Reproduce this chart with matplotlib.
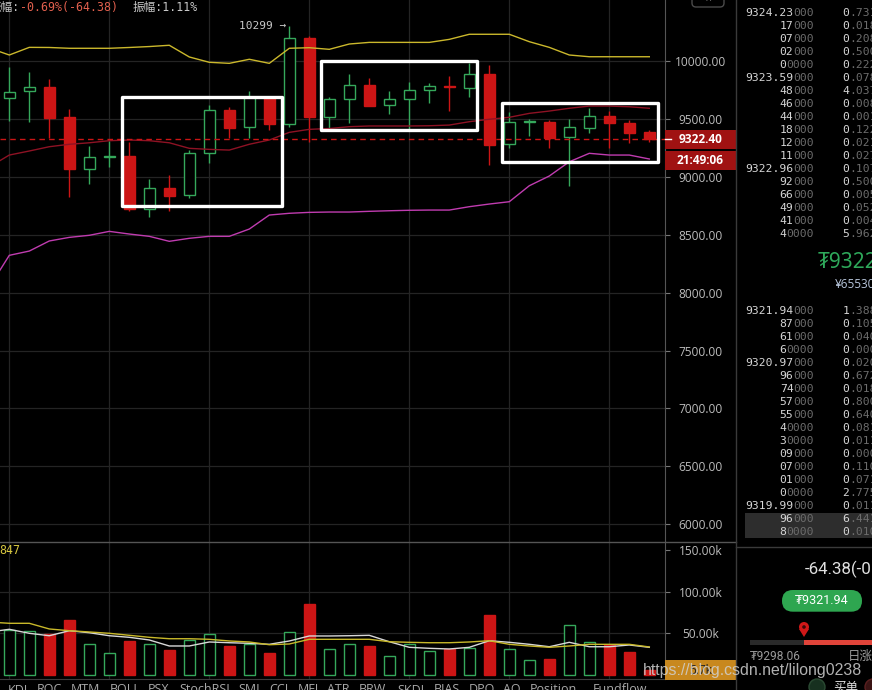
import numpy as np
import matplotlib
matplotlib.use('Agg')
import matplotlib.pyplot as plt
from matplotlib.patches import Rectangle, FancyBboxPatch, Circle, Polygon
from matplotlib.transforms import blended_transform_factory

W, H = 872, 690

# candles, oldest first
opens  = [9678, 9738, 9773, 9514, 9065, 9168, 9180, 8719, 8901, 8840, 9203, 9577, 9427, 9689, 9453, 10201, 9519,
          9669, 9793, 9617, 9669, 9747, 9785, 9769, 9888, 9281, 9470, 9473, 9341, 9424, 9522, 9462, 9384]
closes = [9730, 9773, 9510, 9065, 9168, 9180, 8719, 8901, 8837, 9203, 9574, 9424, 9689, 9453, 10196, 9519, 9669,
          9790, 9614, 9669, 9747, 9782, 9772, 9888, 9275, 9473, 9482, 9338, 9427, 9522, 9462, 9381, 9322.40]
highs  = [9951, 9902, 9842, 9583, 9266, 9312, 9303, 8981, 9016, 9231, 9620, 9605, 9741, 9700, 10299, 10216, 9692,
          9885, 9856, 9741, 9819, 9807, 9870, 9985, 9965, 9562, 9497, 9490, 9499, 9592, 9568, 9490, 9404]
lows   = [9484, 9476, 9332, 8823, 8938, 9082, 8707, 8655, 8707, 8820, 9117, 9338, 9332, 9404, 9427, 9303, 9410,
          9467, 9610, 9542, 9410, 9640, 9571, 9687, 9102, 9246, 9355, 9251, 8920, 9381, 9246, 9289, 9303]
volumes = [54000, 52800, 48800, 65900, 36800, 26000, 40800, 36800, 30000, 42000, 48800, 34800, 37200, 26400,
           51600, 85100, 30800, 36800, 34800, 22400, 36800, 28400, 30800, 32000, 71900, 30800, 17600, 19200,
           59600, 39200, 35600, 27600, 5700]

# indicator lines start one bar before the first visible candle
boll_up  = [10112, 10052, 10118, 10117, 10110, 10110, 10110, 10117, 10125, 10136, 10035, 9989, 9980, 10015, 9980,
            10110, 10115, 10101, 10147, 10161, 10161, 10161, 10161, 10187, 10231, 10231, 10231, 10167, 10118,
            10052, 10037, 10037, 10037, 10037]
boll_mid = [9085, 9188, 9223, 9260, 9281, 9294, 9312, 9318, 9312, 9294, 9246, 9237, 9231, 9281, 9318, 9384, 9410,
            9417, 9433, 9439, 9439, 9439, 9441, 9447, 9476, 9497, 9514, 9548, 9568, 9592, 9611, 9611, 9605, 9592]
boll_low = [8048, 8322, 8359, 8446, 8477, 8495, 8529, 8506, 8486, 8443, 8469, 8486, 8486, 8549, 8670, 8685, 8693,
            8696, 8696, 8702, 8707, 8711, 8713, 8713, 8742, 8765, 8785, 8923, 9007, 9130, 9203, 9188, 9188, 9154]
vol_ma_white  = [51600, 54800, 50000, 47100, 53100, 50700, 47100, 45200, 42000, 34800, 34800, 39600, 38700, 38000,
                 36800, 40800, 46800, 46800, 47100, 47600, 39900, 33200, 32000, 31200, 33200, 41100, 39200, 36800,
                 33900, 39200, 33900, 33900, 36000, 33200]
vol_ma_yellow = [63500, 62000, 62000, 55200, 53100, 51600, 50000, 47600, 45200, 43500, 43500, 42800, 40800, 39600,
                 36300, 37200, 42800, 42800, 42800, 42800, 39900, 39200, 38700, 38700, 39600, 41100, 36800, 34800,
                 33200, 34800, 36800, 36800, 36800, 33600]

last_price = 9322.40
last_time = '21:49:06'
price_ticks = [6000, 6500, 7000, 7500, 8000, 8500, 9000, 9500, 10000]
vol_ticks = [50000, 100000, 150000]
vol_tick_labels = ['50.00k', '100.00k', '150.00k']

# hand drawn boxes: (first bar, last bar, low price, high price)
boxes = [(5.62, 13.62, 8748, 9692), (15.6, 23.4, 9404, 10003), (24.65, 32.45, 9125, 9635)]

ask_prices = ['9324.23000', '17000', '07000', '02000', '00000', '9323.59000', '48000', '46000', '44000',
              '18000', '12000', '11000', '9322.96000', '92000', '66000', '49000', '41000', '40000']
ask_sizes = ['0.731', '0.018', '0.208', '0.500', '0.222', '0.078', '4.037', '0.008', '0.001',
             '0.122', '0.021', '0.027', '0.107', '0.500', '0.005', '0.052', '0.004', '5.962']
bid_prices = ['9321.94000', '87000', '61000', '60000', '9320.97000', '96000', '74000', '57000', '55000',
              '40000', '30000', '09000', '07000', '01000', '00000', '9319.99000', '96000', '80000']
bid_sizes = ['1.388', '0.105', '0.040', '0.000', '0.020', '0.672', '0.018', '0.800', '0.640',
             '0.081', '0.011', '0.000', '0.110', '0.071', '2.775', '0.011', '6.441', '0.010']

tab_names = ['KDJ', 'ROC', 'MTM', 'BOLL', 'PSX', 'StochRSI', 'SMI', 'CCI', 'MFI', 'ATR', 'BRW', 'SKDJ',
             'BIAS', 'DPO', 'AO', 'Position', 'Fundflow']
tab_x = [7.6, 37, 70.7, 110, 148, 179, 238, 269, 297.5, 327, 359, 397, 433.5, 469, 503, 530, 593]

GREEN = '#35a85b'
RED = '#cc1515'
BG = '#000000'
GRID = '#242424'
AXIS = '#555555'
LABEL = '#bcbcbc'
BRIGHT = '#d6d6d6'
DIM = '#6c6c6c'
MONO = ['DejaVu Sans Mono', 'Noto Sans CJK SC']
SANS = ['Open Sans', 'DejaVu Sans']

fig = plt.figure(figsize=(W / 100, H / 100), dpi=100, facecolor=BG)


def frac(x0, y0, x1, y1):
    return [x0 / W, 1 - y1 / H, (x1 - x0) / W, (y1 - y0) / H]


ax = fig.add_axes(frac(0, 0, 665, 541))
axv = fig.add_axes(frac(0, 541, 665, 679), sharex=ax)

x = np.arange(len(opens))
xb = np.arange(-1, len(opens))
o, c, h, l = (np.array(a, dtype=float) for a in (opens, closes, highs, lows))
up = c >= o
edge = np.where(up, GREEN, RED)
face = np.where(up, BG, RED)

for a in (ax, axv):
    a.set_facecolor(BG)
    for s in ('top', 'left', 'bottom'):
        a.spines[s].set_visible(False)
    a.spines['right'].set_color(AXIS)
    a.yaxis.tick_right()
    a.set_xticks(range(0, len(opens), 5))
    a.tick_params(axis='x', length=0, labelbottom=False)
    a.grid(axis='x', color=GRID, lw=0.9)
    a.set_axisbelow(True)

# price pane
ax.set_xlim(-0.465, 32.785)
ax.set_ylim(5855, 10527)
ax.grid(axis='y', color=GRID, lw=0.9)
ax.vlines(x, l, h, colors=edge, lw=1.0, zorder=2)
ax.bar(x, np.abs(c - o), bottom=np.minimum(o, c), width=0.54, color=face, edgecolor=edge, lw=1.0, zorder=3)
ax.plot(xb, boll_up, color='#cbb82c', lw=1.0, zorder=4)
ax.plot(xb, boll_mid, color='#8e1224', lw=1.0, zorder=4)
ax.plot(xb, boll_low, color='#c03cb0', lw=1.0, zorder=4)
ax.axhline(last_price, color=RED, lw=1.0, ls=(0, (4, 3)), zorder=4)
for x0, x1, y0, y1 in boxes:
    ax.add_patch(Rectangle((x0, y0), x1 - x0, y1 - y0, fill=False, ec='white', lw=2.4,
                           joinstyle='round', zorder=6))
imax = int(np.argmax(h))
ax.text(imax - 0.15, h[imax], f'{h[imax]:.0f} →', ha='right', va='center', color='#c8c8c8',
        fontsize=8, family=MONO, zorder=6)

pad = (700.5 - 665 - 5) * 0.72
ax.set_yticks(price_ticks, [f'{t:.2f}' for t in price_ticks])
ax.tick_params(axis='y', color='#777777', labelcolor=LABEL, length=3.6, width=0.8, pad=pad,
               labelsize=8.6, labelfontfamily='Open Sans')
plt.setp(ax.get_yticklabels(), ha='center')

# current price tags
tr = blended_transform_factory(fig.transFigure, ax.transData)
ppx = (ax.get_ylim()[1] - ax.get_ylim()[0]) / 541
for k, txt in enumerate([f'{last_price:.2f}', last_time]):
    yc = last_price - 21 * ppx * k
    ax.add_patch(Rectangle((665 / W, yc - 9.5 * ppx), 71 / W, 19 * ppx, transform=tr, fc='#a01212',
                           ec='none', clip_on=False, zorder=7))
    ax.text(700.5 / W, yc, txt, transform=tr, ha='center', va='center', color='white', fontsize=8.6,
            fontweight='bold', family=SANS, zorder=8, clip_on=False)
ax.plot([665 / W, 671 / W], [last_price, last_price], transform=tr, color='white', lw=1, clip_on=False, zorder=8)

# volume pane
axv.set_ylim(-4800, 160700)
for v in vol_ticks[:-1]:
    axv.axhline(v, color=GRID, lw=0.9, zorder=0)
axv.bar(x, volumes, width=0.54, color=face, edgecolor=edge, lw=1.0, zorder=3)
axv.plot(xb, vol_ma_white, color='#d8d8d8', lw=1.0, zorder=4)
axv.plot(xb, vol_ma_yellow, color='#c8b82a', lw=1.0, zorder=4)
axv.spines['bottom'].set_visible(True)
axv.spines['bottom'].set_color('#3c3c3c')
axv.set_yticks(vol_ticks, vol_tick_labels)
axv.tick_params(axis='y', color='#777777', labelcolor=LABEL, length=3.6, width=0.8, pad=pad,
                labelsize=8.6, labelfontfamily='Open Sans')
plt.setp(axv.get_yticklabels(), ha='center')

trv = blended_transform_factory(fig.transFigure, axv.transData)
vpx = (axv.get_ylim()[1] - axv.get_ylim()[0]) / 138
axv.add_patch(Rectangle((665 / W, volumes[-1] - 10 * vpx), 71 / W, 20 * vpx, transform=trv, fc='#c8881e',
                        ec='none', clip_on=False, zorder=7))
axv.text(700.5 / W, volumes[-1], f'{volumes[-1] / 1000:.1f}k', transform=trv, ha='center', va='center',
         color='#202020', fontsize=8.6, family=SANS, zorder=8, clip_on=False)

# overlay in pixel units for the surrounding ui
ov = fig.add_axes([0, 0, 1, 1], zorder=10)
ov.set_xlim(0, W)
ov.set_ylim(H, 0)
ov.axis('off')

ov.plot([0, 736], [541.5, 541.5], color=AXIS, lw=1)
ov.plot([736, 736], [0, H], color='#3a3a3a', lw=1)
ov.plot([736, W], [547, 547], color='#3a3a3a', lw=1)

# header
ov.text(20, 7.3, '涨幅:', ha='right', va='center', color='#c8c8c8', fontsize=8.4, family=MONO)
ov.text(20, 7.3, '-0.69%(-64.38)', ha='left', va='center', color='#e2604e', fontsize=8.4, family=MONO)
ov.text(133, 7.3, '振幅:1.11%', ha='left', va='center', color='#c8c8c8', fontsize=8.4, family=MONO)
ov.text(-1, 551, '847', ha='left', va='center', color='#d8c840', fontsize=8.4, family=MONO)
ov.add_patch(FancyBboxPatch((692, -8), 32, 15, boxstyle='round,pad=0,rounding_size=4', fc=BG, ec='#4a4a4a', lw=1))
ov.text(708, 1.5, '^', ha='center', va='center', color='#888888', fontsize=7, family=SANS)

# indicator tabs
for name, tx in zip(tab_names, tab_x):
    ov.text(tx, 683, name, ha='left', va='top', color='#a8a8a8', fontsize=9, family=SANS)

# order book: significant digits bright, padding digits dim
fs = 8.2
cw = 0.602 * fs * 100 / 72


def two_tone(left, y, head, tail):
    ov.text(left, y, head, ha='left', va='center', color=BRIGHT, fontsize=fs, family=MONO)
    if tail:
        ov.text(left + len(head) * cw, y, tail, ha='left', va='center', color=DIM, fontsize=fs, family=MONO)


ov.add_patch(Rectangle((745, 512.7), W - 745, 25.6, fc='#2d2d2d', ec='none'))
for y0, prices, sizes in ((13.3, ask_prices, ask_sizes), (311, bid_prices, bid_sizes)):
    for i, (p, q) in enumerate(zip(prices, sizes)):
        y = y0 + 13 * i
        head = p.rstrip('0') or '0'
        two_tone(814 - len(p) * cw, y, head, p[len(head):])
        qi = q.split('.')[0]
        two_tone(842.3, y, qi, q[len(qi):])

ov.text(818, 263, f'₮{last_price:.2f}', ha='left', va='center', color='#2ea85a', fontsize=15,
        family=['Noto Sans', 'DejaVu Sans'])
ov.text(835, 285, '¥65530', ha='left', va='center', color='#b8c6dc', fontsize=8.5, family=SANS)

# bottom right block
ov.text(805, 569, '-64.38(-0.69%)', ha='left', va='center', color='#e0e0e0', fontsize=12.2,
        family=['Roboto', 'DejaVu Sans'])
ov.add_patch(FancyBboxPatch((782, 590), 80, 21.7, boxstyle='round,pad=0,rounding_size=10.8', fc='#2ea650', ec='none'))
ov.text(822, 601, '₮9321.94', ha='center', va='center', color='white', fontsize=9,
        family=['Roboto', 'DejaVu Sans'])
ov.add_patch(Rectangle((750, 639.5), 54, 5, fc='#2a2a2a', ec='none'))
ov.add_patch(Rectangle((804, 639.5), W - 804, 5, fc='#e0443a', ec='none'))
ov.add_patch(Polygon([(799, 629), (809, 629), (804, 637)], closed=True, fc='#d01818', ec='none'))
ov.add_patch(Circle((804, 627), 5, fc='#d01818', ec='none'))
ov.add_patch(Circle((804, 627), 1.8, fc='#3a0808', ec='none'))
ov.text(750, 656, '₮9298.06', ha='left', va='center', color='#9a9a9a', fontsize=8.6, family=['Roboto', 'DejaVu Sans'])
ov.text(848, 656, '日涨幅', ha='left', va='center', color='#9a9a9a', fontsize=9, family=['Noto Sans CJK SC'])
ov.add_patch(Circle((817, 687), 8, fc='#17301f', ec='#2b4a33', lw=1))
ov.add_patch(Circle((873, 687), 8, fc='#3a1414', ec='#5a2020', lw=1))
ov.text(833, 688, '买单', ha='left', va='center', color='#e0e0e0', fontsize=9, family=['Noto Sans CJK SC'])

# watermark
ov.text(643, 671, 'https://blog.csdn.net/lilong0238', ha='left', va='center', color='#d0d0d0', alpha=0.85,
        fontsize=11.4, family=['Liberation Sans', 'DejaVu Sans'])

fig.savefig('out.png', dpi=100, facecolor=BG)
